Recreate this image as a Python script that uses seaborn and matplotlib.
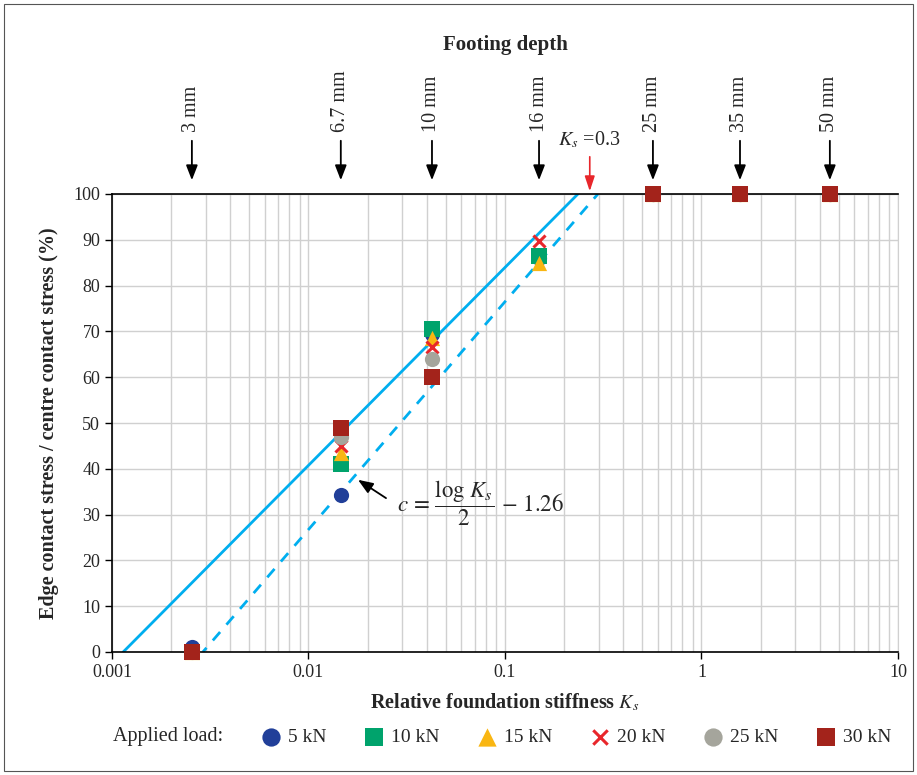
import numpy as np
import pandas as pd
import seaborn as sns
import matplotlib.pyplot as plt
from matplotlib.patches import Rectangle

sns.set_style("white")
plt.rcParams['font.family'] = ['Liberation Serif', 'DejaVu Serif']
plt.rcParams['mathtext.fontset'] = 'stix'

# relative foundation stiffness for each footing depth
depth_labels = ['3 mm', '6.7 mm', '10 mm', '16 mm', '25 mm', '35 mm', '50 mm']
ks = [0.00255, 0.0146, 0.0425, 0.149, 0.566, 1.57, 4.5]

# edge / centre contact stress (%) per applied load
loads = ['5 kN', '10 kN', '15 kN', '20 kN', '25 kN', '30 kN']
r_5 = [1.0, 34.2, 69.5, 86.0, 100, 100, 100]
r_10 = [0.0, 41.0, 70.5, 86.5, 100, 100, 100]
r_15 = [0.0, 43.5, 68.5, 85.0, 100, 100, 100]
r_20 = [0.0, 45.0, 66.6, 89.7, 100, 100, 100]
r_25 = [0.0, 47.0, 64.0, np.nan, 100, 100, 100]
r_30 = [0.0, 49.0, 60.0, np.nan, 100, 100, 100]

# fitted lines (Ks at 0 % and at 100 %)
solid_ks = [0.00114, 0.235]
dashed_ks = [0.0029, 0.297]
line_y = [0, 100]
ks_limit = 0.27

colors = ['#213f99', '#00a36c', '#f9b612', '#e8262b', '#a5a59c', '#a3231b']
markers = ['o', 's', '^', 'x', 'o', 's']

rows = []
for lab, vals in zip(loads, [r_5, r_10, r_15, r_20, r_25, r_30]):
    for k, v in zip(ks, vals):
        rows.append({'ks': k, 'ratio': v, 'load': lab})
df = pd.DataFrame(rows).dropna()

fig = plt.figure(figsize=(9.17, 7.75), dpi=100)
ax = fig.add_axes([112/917, 1 - 652/775, 786/917, 458/775])

ax.set_xscale('log')
ax.set_xlim(0.001, 10)
ax.set_ylim(0, 100)
ax.set_yticks(range(0, 101, 10))
ax.grid(True, which='major', color='#d0d0d0', lw=1.0)
ax.grid(True, which='minor', axis='x', color='#d0d0d0', lw=1.0)

sns.lineplot(x=solid_ks, y=line_y, ax=ax, color='#00aeef', lw=2, zorder=2)
ax.plot(dashed_ks, line_y, color='#00aeef', lw=2, ls=(2, (4, 3.5)), zorder=2)

for lab, c, m in zip(loads, colors, markers):
    sub = df[df['load'] == lab]
    if m == 'x':
        sns.scatterplot(data=sub, x='ks', y='ratio', ax=ax, marker='x', color=c,
                        s=75, linewidth=2.2, label=lab, zorder=3, clip_on=False)
    else:
        sns.scatterplot(data=sub, x='ks', y='ratio', ax=ax, marker=m, color=c,
                        s=120, linewidth=0, label=lab, zorder=3, clip_on=False)

for side in ['left', 'bottom', 'top']:
    ax.spines[side].set_color('black')
    ax.spines[side].set_linewidth(1.2)
ax.spines['right'].set_color('#d0d0d0')
ax.tick_params(axis='both', which='major', direction='out', length=5, width=1,
               color='black', labelsize=13, left=True, bottom=True)
ax.tick_params(axis='x', which='minor', length=0)
ax.set_xticks([0.001, 0.01, 0.1, 1, 10])
ax.set_xticklabels(['0.001', '0.01', '0.1', '1', '10'])

ax.set_xlabel(r'Relative foundation stiffness $\boldsymbol{K_s}$', fontsize=14.5,
              fontweight='bold', labelpad=8)
ax.set_ylabel('Edge contact stress / centre contact stress (%)', fontsize=14.5,
              fontweight='bold', labelpad=10)

# footing depth arrows on top
trans = ax.get_xaxis_transform()
for k, lab in zip(ks, depth_labels):
    ax.annotate('', xy=(k, 1 + 11/458), xytext=(k, 1 + 56/458), xycoords=trans,
                textcoords=trans, annotation_clip=False,
                arrowprops=dict(arrowstyle='-|>,head_width=0.35,head_length=0.9',
                                color='black', lw=1.3))
    ax.text(k, 1 + 62/458, lab, transform=trans, rotation=90, ha='center',
            va='bottom', fontsize=14.5)
ax.text(0.5, 1 + 149/458, 'Footing depth', transform=ax.transAxes, ha='center',
        va='center', fontsize=15, fontweight='bold')

ax.annotate('', xy=(ks_limit, 1.0), xytext=(ks_limit, 1 + 40/458), xycoords=trans,
            textcoords=trans, annotation_clip=False,
            arrowprops=dict(arrowstyle='-|>,head_width=0.3,head_length=0.9',
                            color='#e8262b', lw=1.2))
ax.text(ks_limit, 1 + 54/458, r'$K_s$ =0.3', transform=trans, ha='center',
        va='center', fontsize=14.5)

# equation
ax.annotate('', xy=(0.01786, 37.6), xytext=(0.0248, 33.6),
            arrowprops=dict(arrowstyle='-|>,head_width=0.35,head_length=0.9',
                            color='black', lw=1.3, shrinkA=0, shrinkB=0))
ax.text(0.0282, 32.5, r'$c\,=\,\dfrac{\log\,K_s}{2}\,-\,1.26$', fontsize=16.5,
        va='center', ha='left')

handles, labels = ax.get_legend_handles_labels()
ax.get_legend().remove()
fig.legend(handles, labels, loc='center left', bbox_to_anchor=(239/917, 1 - 737/775),
           ncol=6, frameon=False, fontsize=14, handletextpad=0.1,
           columnspacing=1.72, handlelength=1.5, markerscale=1.2)
fig.text(113/917, 1 - 737/775, 'Applied load:', fontsize=14.5, va='center', ha='left')

fig.patches.append(Rectangle((4/917, 4/775), 909/917, 767/775, transform=fig.transFigure,
                             fill=False, edgecolor='#555555', lw=0.8))

fig.savefig('out.png', dpi=100)
